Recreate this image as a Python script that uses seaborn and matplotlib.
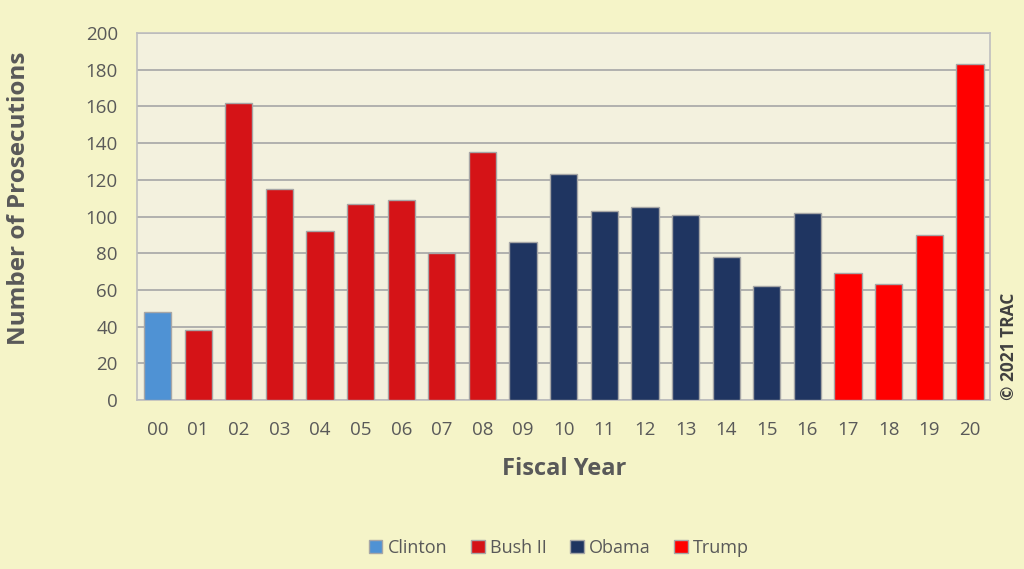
import pandas as pd
import matplotlib
matplotlib.use("Agg")
import matplotlib.pyplot as plt
import seaborn as sns

# Prosecutions by fiscal year
years = ["00", "01", "02", "03", "04", "05", "06", "07", "08", "09", "10",
         "11", "12", "13", "14", "15", "16", "17", "18", "19", "20"]
counts = [48, 38, 162, 115, 92, 107, 109, 80, 135, 86, 123,
          103, 105, 101, 78, 62, 102, 69, 63, 90, 183]
presidents = ["Clinton"] + ["Bush II"] * 8 + ["Obama"] * 8 + ["Trump"] * 4
palette = {"Clinton": "#4F92D4", "Bush II": "#D51317",
           "Obama": "#1F3561", "Trump": "#FF0000"}

df = pd.DataFrame({"Year": years, "Count": counts, "President": presidents})

sns.set_style("white")
plt.rcParams["font.family"] = ["Open Sans", "DejaVu Sans"]
text_col = "#595959"

fig = plt.figure(figsize=(10.24, 5.69), dpi=100, facecolor="#F5F4C8")
ax = fig.add_axes([0.134, 0.297, 0.833, 0.645])
ax.set_facecolor("#F3F1DE")

sns.barplot(data=df, x="Year", y="Count", hue="President", palette=palette,
            dodge=False, width=0.67, edgecolor="#A6A6A6", linewidth=1,
            saturation=1, ax=ax, zorder=3)

ax.set_ylim(0, 200)
ax.set_yticks(range(0, 201, 20))
ax.set_xlim(-0.5, len(years) - 0.5)
ax.yaxis.grid(True, color="#A6A6A6", linewidth=1.2, zorder=0)
ax.set_axisbelow(True)
for s in ax.spines.values():
    s.set_color("#BFBFBF")
    s.set_linewidth(1.2)

ax.tick_params(axis="y", length=0, labelsize=13.5, labelcolor=text_col, pad=14)
ax.tick_params(axis="x", length=0, labelsize=13.5, labelcolor=text_col, pad=15)
ax.set_xlabel("Fiscal Year", fontsize=17, fontweight="bold", color=text_col, labelpad=13)
ax.set_ylabel("Number of Prosecutions", fontsize=17.5, fontweight="bold", color=text_col, labelpad=39)
ax.yaxis.label.set_y(0.55)

ax.text(1.012, 0.0, "© 2021 TRAC", transform=ax.transAxes, rotation=90,
        fontsize=12.5, fontweight="bold", color="#404040", ha="left", va="bottom")

handles, labels = ax.get_legend_handles_labels()
ax.legend(handles, labels, loc="center", bbox_to_anchor=(0.546, 0.037),
          bbox_transform=fig.transFigure, ncol=4, frameon=False, fontsize=13,
          labelcolor=text_col, handlelength=0.75, handleheight=0.75,
          handletextpad=0.3, columnspacing=1.3)

fig.savefig("out.png", dpi=100, facecolor=fig.get_facecolor())
